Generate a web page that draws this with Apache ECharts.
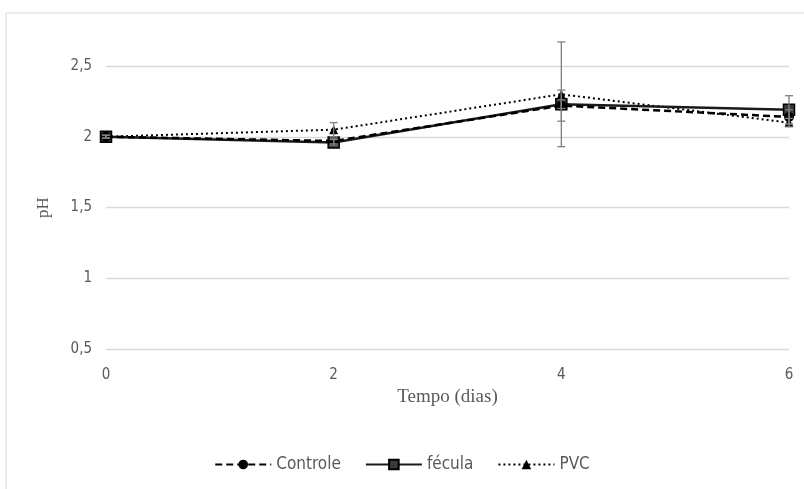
<!DOCTYPE html>
<html>
<head>
    <meta charset="utf-8">
    <script src="https://cdn.jsdelivr.net/npm/echarts@6/dist/echarts.min.js"></script>
</head>
<body style="margin:0">
<div id="main" style="width: 804px;height:489px;"></div>
<script type="text/javascript">
    // dados
    var dias = [0, 2, 4, 6];
    var controle = [2.0, 1.97, 2.22, 2.14];
    var fecula = [2.0, 1.96, 2.23, 2.19];
    var pvc = [2.0, 2.05, 2.30, 2.10];
    // desvio (barras de erro)
    var erroControle = [0.01, 0.02, 0.11, 0.05];
    var erroFecula = [0.01, 0.02, 0.03, 0.10];
    var erroPvc = [0.01, 0.05, 0.37, 0.03];

    var myChart = echarts.init(document.getElementById('main'));

    function pares(vals) {
        return dias.map(function (d, i) { return [d, vals[i]]; });
    }
    function erros(vals, errs) {
        return dias.map(function (d, i) { return [d, vals[i] - errs[i], vals[i] + errs[i]]; });
    }
    function barraErro(params, api) {
        var lo = api.coord([api.value(0), api.value(1)]);
        var hi = api.coord([api.value(0), api.value(2)]);
        var w = 4;
        var st = { stroke: '#7f7f7f', lineWidth: 1.3 };
        return {
            type: 'group',
            children: [
                { type: 'line', shape: { x1: lo[0], y1: lo[1], x2: hi[0], y2: hi[1] }, style: st },
                { type: 'line', shape: { x1: lo[0] - w, y1: lo[1], x2: lo[0] + w, y2: lo[1] }, style: st },
                { type: 'line', shape: { x1: hi[0] - w, y1: hi[1], x2: hi[0] + w, y2: hi[1] }, style: st }
            ]
        };
    }

    var serif = '"Liberation Serif", "DejaVu Serif", serif';
    var sans = '"Liberation Sans Narrow", "DejaVu Sans Condensed", sans-serif';

    option = {
        animation: false,
        backgroundColor: '#ffffff',
        graphic: [{
            type: 'rect',
            shape: { x: 6, y: 13, width: 830, height: 500 },
            style: { fill: 'none', stroke: '#d9d9d9', lineWidth: 1 },
            silent: true
        }],
        grid: { left: 106, right: 15, top: 66, bottom: 140 },
        legend: {
            bottom: 11,
            left: 'center',
            itemWidth: 56,
            itemHeight: 12,
            itemGap: 24,
            textStyle: { fontFamily: sans, fontSize: 17, color: '#595959' },
            data: ['Controle', 'fécula', 'PVC']
        },
        xAxis: {
            type: 'value',
            min: 0, max: 6, interval: 2,
            name: 'Tempo (dias)',
            nameLocation: 'middle',
            nameGap: 36,
            nameTextStyle: { fontFamily: serif, fontSize: 19, color: '#595959' },
            axisLine: { show: false },
            axisTick: { show: false },
            splitLine: { show: false },
            axisLabel: { margin: 19, fontFamily: sans, fontSize: 15, color: '#595959' }
        },
        yAxis: {
            type: 'value',
            min: 0.5, max: 2.5, interval: 0.5,
            name: 'pH',
            nameLocation: 'middle',
            nameGap: 54,
            nameTextStyle: { fontFamily: serif, fontSize: 17, color: '#595959' },
            axisLine: { show: false },
            axisTick: { show: false },
            splitLine: { lineStyle: { color: '#d9d9d9', width: 1.3 } },
            axisLabel: {
                margin: 14, fontFamily: sans, fontSize: 15, color: '#595959',
                formatter: function (v) { return String(v).replace('.', ','); }
            }
        },
        series: [
            {
                name: 'PVC', type: 'line', data: pares(pvc), z: 3,
                symbol: 'triangle', symbolSize: 9,
                lineStyle: { color: '#000', width: 2, type: [2, 3] },
                itemStyle: { color: '#000' }
            },
            {
                name: 'fécula', type: 'line', data: pares(fecula), z: 4,
                symbol: 'rect', symbolSize: 11,
                lineStyle: { color: '#1a1a1a', width: 2.5 },
                itemStyle: { color: '#3a3a3a', borderColor: '#000', borderWidth: 1.5 }
            },
            {
                name: 'Controle', type: 'line', data: pares(controle), z: 5,
                symbol: 'circle', symbolSize: 10,
                lineStyle: { color: '#000', width: 2.5, type: [7, 4] },
                itemStyle: { color: '#000' }
            },
            {
                type: 'custom', data: erros(pvc, erroPvc), renderItem: barraErro, z: 6, clip: false, silent: true
            },
            {
                type: 'custom', data: erros(controle, erroControle), renderItem: barraErro, z: 6, clip: false, silent: true
            },
            {
                type: 'custom', data: erros(fecula, erroFecula), renderItem: barraErro, z: 6, clip: false, silent: true
            }
        ]
    };

    myChart.setOption(option);
</script>
</body>
</html>
